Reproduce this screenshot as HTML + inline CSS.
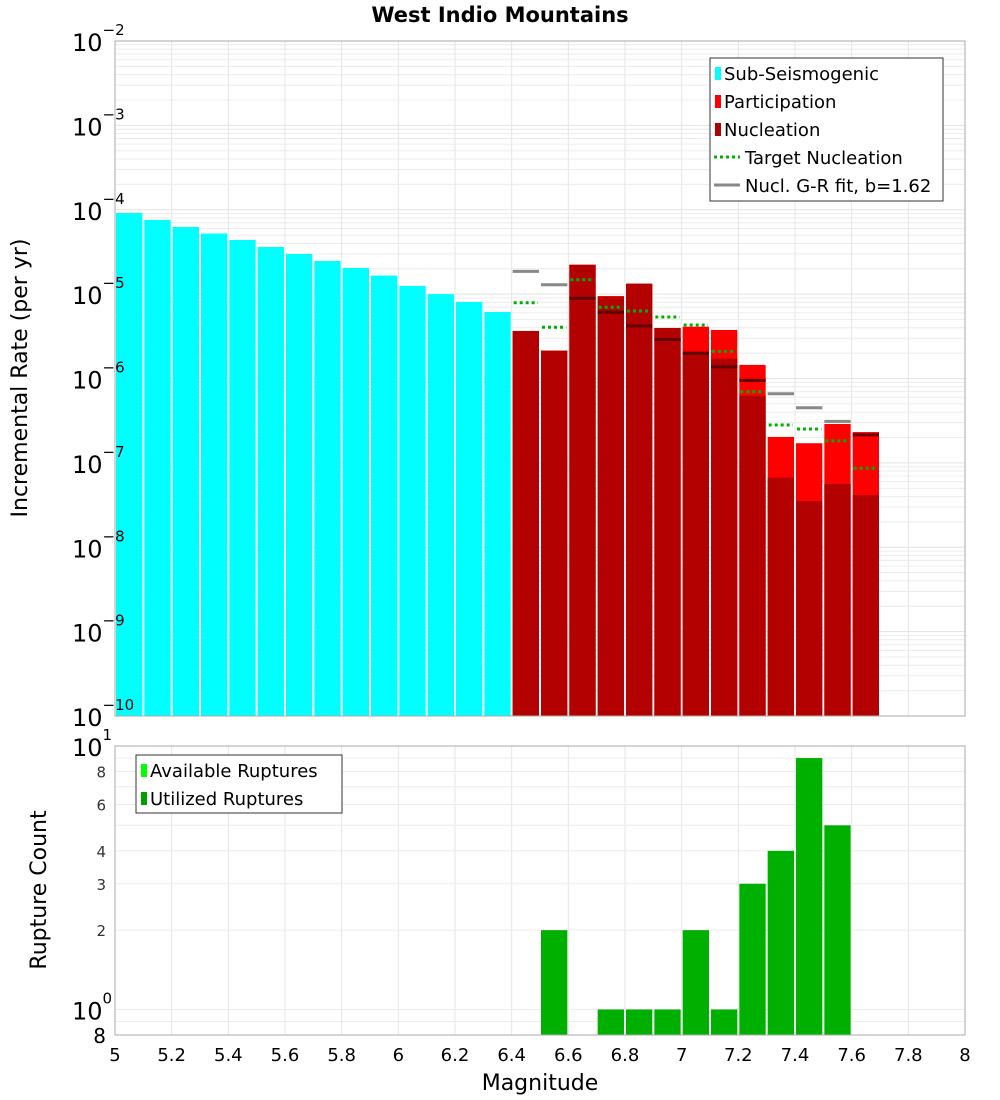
<!DOCTYPE html>
<html><head><meta charset="utf-8"><style>
html,body{margin:0;padding:0;background:#fff}
svg{display:block;font-family:"DejaVu Sans","Liberation Sans",sans-serif}
</style></head><body>
<svg id="chart" width="1000" height="1100" viewBox="0 0 1000 1100" xmlns="http://www.w3.org/2000/svg">
<text x="500" y="22" text-anchor="middle" font-size="21" font-weight="bold">West Indio Mountains</text>
<g id="topPlot"></g>
<g id="botPlot"></g>
<text transform="translate(27,378) rotate(-90)" text-anchor="middle" font-size="22">Incremental Rate (per yr)</text>
<text transform="translate(46,890) rotate(-90)" text-anchor="middle" font-size="22">Rupture Count</text>
<text x="540" y="1090" text-anchor="middle" font-size="22">Magnitude</text>
</svg>
<script>
const subMags=[5.0,5.1,5.2,5.3,5.4,5.5,5.6,5.7,5.8,5.9,6.0,6.1,6.2,6.3];
const subRates=[9.15e-5,7.57e-5,6.25e-5,5.23e-5,4.38e-5,3.62e-5,2.99e-5,2.47e-5,2.04e-5,1.66e-5,1.25e-5,1.0e-5,8.07e-6,6.14e-6];
const supMags=[6.4,6.5,6.6,6.7,6.8,6.9,7.0,7.1,7.2,7.3,7.4,7.5,7.6];
const partRates=[3.66e-6,2.14e-6,2.23e-5,9.5e-6,1.33e-5,3.97e-6,4.11e-6,3.76e-6,1.45e-6,2.03e-7,1.71e-7,2.89e-7,2.32e-7];
const nuclRates=[3.66e-6,2.14e-6,2.23e-5,9.25e-6,1.33e-5,3.97e-6,2.02e-6,1.72e-6,6.25e-7,6.67e-8,3.53e-8,5.62e-8,4.16e-8];
const targetRates=[7.91e-6,4.05e-6,1.48e-5,6.98e-6,6.31e-6,5.36e-6,4.31e-6,2.10e-6,6.98e-7,2.81e-7,2.52e-7,1.82e-7,8.63e-8];
const grRates=[1.86e-5,1.29e-5,8.9e-6,6.1e-6,4.2e-6,2.9e-6,2.0e-6,1.38e-6,9.5e-7,6.6e-7,4.5e-7,3.1e-7,2.15e-7];
const countMags=[6.5,6.7,6.8,6.9,7.0,7.1,7.2,7.3,7.4,7.5];
const countVals=[2,1,1,1,2,1,3,4,9,5];
const xTicks=[5,5.2,5.4,5.6,5.8,6,6.2,6.4,6.6,6.8,7,7.2,7.4,7.6,7.8,8];
const yExps=[-2,-3,-4,-5,-6,-7,-8,-9,-10];
const countTicks=[8,6,4,3,2];

const NS="http://www.w3.org/2000/svg";
const X0=115,X1=965;
const T0=41,T1=716,B0=746,B1=1035;
const xs=m=>X0+(m-5)/3*(X1-X0);
const yT=v=>T0+(-2-Math.log10(v))/8*(T1-T0);
const yB=v=>B0+(1-Math.log10(v))/(1-Math.log10(0.8))*(B1-B0);
function el(p,tag,a){const e=document.createElementNS(NS,tag);for(const k in a)e.setAttribute(k,a[k]);p.appendChild(e);return e;}
const gTop=document.getElementById('topPlot'),gBot=document.getElementById('botPlot');

for(let d=-10;d<-2;d++)for(let k=1;k<10;k++){const v=k*Math.pow(10,d);const g=el(gTop,'line',{x1:X0,x2:X1,y1:yT(v),y2:yT(v),stroke:k==1?'#e2e2e2':'#ececec','stroke-width':1});

}
xTicks.forEach(t=>{const g=el(gTop,'line',{x1:xs(t),x2:xs(t),y1:T0,y2:T1,stroke:'#e6e6e6'});


const h=el(gBot,'line',{x1:xs(t),x2:xs(t),y1:B0,y2:B1,stroke:'#e6e6e6'});

});
[0.8,0.9,1,2,3,4,5,6,7,8,9].forEach(v=>{const g=el(gBot,'line',{x1:X0,x2:X1,y1:yB(v),y2:yB(v),stroke:'#ececec'});

});

const bw=(xs(5.1)-xs(5))-2;
subMags.forEach((m,i)=>{const r=el(gTop,'rect',{x:xs(m)+1,y:yT(subRates[i]),width:bw,height:T1-yT(subRates[i]),fill:'#00ffff'});

});
supMags.forEach((m,i)=>{const r=el(gTop,'rect',{x:xs(m)+1,y:yT(partRates[i]),width:bw,height:T1-yT(partRates[i]),fill:'#ff0000'});


const n=el(gTop,'rect',{x:xs(m)+1,y:yT(nuclRates[i]),width:bw,height:T1-yT(nuclRates[i]),fill:'#b30000'});

});
supMags.forEach((m,i)=>{const inside=grRates[i]<partRates[i];const l=el(gTop,'line',{x1:xs(m)+1,x2:xs(m)+1+bw,y1:yT(grRates[i]),y2:yT(grRates[i]),stroke:inside?'#600000':'#888','stroke-width':3});


const t=el(gTop,'line',{x1:xs(m)+2,x2:xs(m)+bw,y1:yT(targetRates[i]),y2:yT(targetRates[i]),stroke:'#00b000','stroke-width':3,'stroke-dasharray':'3,3'});

});
countMags.forEach((m,i)=>{const r=el(gBot,'rect',{x:xs(m)+1,y:yB(countVals[i]),width:bw,height:B1-yB(countVals[i]),fill:'#00b000'});

});

[[gTop,T0,T1],[gBot,B0,B1]].forEach(([g,a,b])=>{const f=el(g,'rect',{x:X0,y:a,width:X1-X0,height:b-a,fill:'none',stroke:'#aaa'});

});

yExps.forEach(e=>{const t=el(gTop,'text',{x:72,y:yT(Math.pow(10,e))+10,'font-size':24});


t.textContent='10';const s=el(t,'tspan',{dy:-16,'font-size':15});s.textContent=String(e).replace('-','\u2212');});
[[10,'1'],[1,'0']].forEach(([v,e])=>{const t=el(gBot,'text',{x:72,y:yB(v)+10,'font-size':24});


t.textContent='10';const s=el(t,'tspan',{dy:-16,'font-size':15});s.textContent=e;});
countTicks.forEach(v=>{const t=el(gBot,'text',{x:106,y:yB(v)+6,'text-anchor':'end','font-size':15,fill:'#333'});


t.textContent=v;});
{const t=el(gBot,'text',{x:106,y:B1+8,'text-anchor':'end','font-size':20});


t.textContent='8';}
xTicks.forEach(v=>{const t=el(gBot,'text',{x:xs(v),y:1061,'text-anchor':'middle','font-size':18});


t.textContent=String(v);});

function legend(g,lx,ly,w,h,items){const b=el(g,'rect',{x:lx,y:ly,width:w,height:h,fill:'#fff',stroke:'#333'});


items.forEach((it,i)=>{const cy=ly+15+i*28;let s;
if(it[1]=='box'){s=el(g,'rect',{x:lx+5,y:cy-6,width:6,height:13,fill:it[2]});}
else{s=el(g,'line',{x1:lx+4,x2:lx+30,y1:cy,y2:cy,stroke:it[2],'stroke-width':3,'stroke-dasharray':it[1]=='dot'?'3,3':'none'});}


const t=el(g,'text',{x:lx+(it[1]=='box'?14:35),y:cy+7,'font-size':18});


t.textContent=it[0];});}
legend(gTop,710,58,233,143,[['Sub-Seismogenic','box','#00ffff'],['Participation','box','#ff0000'],['Nucleation','box','#b30000'],['Target Nucleation','dot','#00b000'],['Nucl. G-R fit, b=1.62','line','#888']]);
legend(gBot,136,755,206,58,[['Available Ruptures','box','#00ff00'],['Utilized Ruptures','box','#00a000']]);
</script>
</body></html>
